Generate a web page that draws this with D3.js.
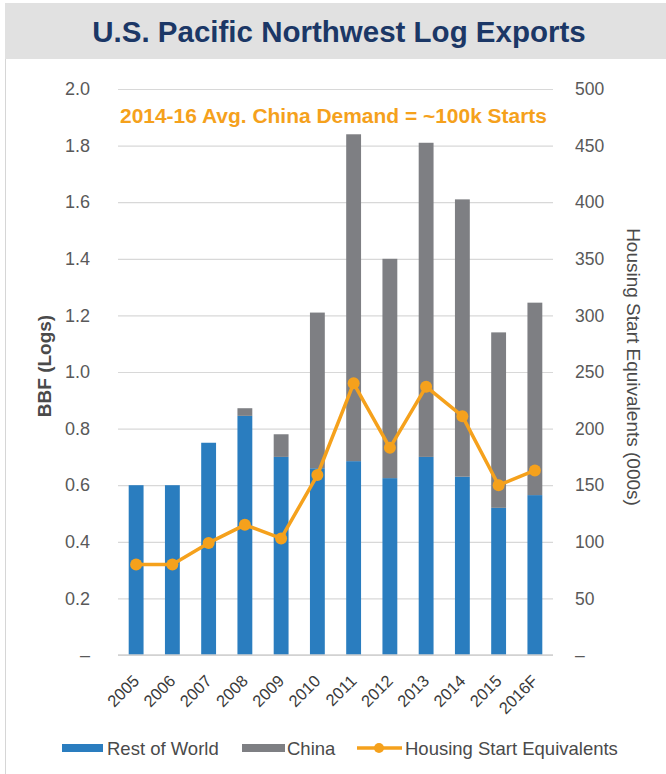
<!DOCTYPE html>
<html>
<head>
<meta charset="utf-8">
<script src="https://cdn.jsdelivr.net/npm/d3@7/dist/d3.min.js"></script>
<style>
  html, body { margin: 0; padding: 0; background: #fff; }
  svg { display: block; font-family: "Liberation Sans", Arial, Helvetica, sans-serif; }
</style>
</head>
<body>
<svg id="chart" width="666" height="774"></svg>
<script>
// ---- data ----
const years = ["2005","2006","2007","2008","2009","2010","2011","2012","2013","2014","2015","2016F"];
const restOfWorld = [0.60, 0.60, 0.75, 0.845, 0.70, 0.66, 0.685, 0.625, 0.70, 0.63, 0.52, 0.565];
const china       = [0.00, 0.00, 0.00, 0.027, 0.08, 0.55, 1.155, 0.775, 1.11, 0.98, 0.62, 0.68];
const housingStarts = [80, 80, 99, 115, 103, 159, 240, 183, 237, 211, 150, 163];
const leftTicks  = [0, 0.2, 0.4, 0.6, 0.8, 1.0, 1.2, 1.4, 1.6, 1.8, 2.0];
const rightTicks = [0, 50, 100, 150, 200, 250, 300, 350, 400, 450, 500];
const seriesNames = ["Rest of World", "China", "Housing Start Equivalents"];

const colors = { row: "#2a7dbf", china: "#7e7f83", line: "#f5a11c" };

const svg = d3.select("#chart");
const W = 666, H = 774;
const plot = { left: 118, right: 553, top: 89, bottom: 655 };

// header band
svg.append("rect").attr("x", 5).attr("y", 3).attr("width", W - 5).attr("height", 56).attr("fill", "#e1e1e1");
svg.append("line").attr("x1", 5.5).attr("x2", 5.5).attr("y1", 59).attr("y2", H)
  .attr("stroke", "#d6d6d6").attr("stroke-width", 1);
svg.append("text").attr("x", 339).attr("y", 42).attr("text-anchor", "middle")
  .attr("font-size", 29.5).attr("font-weight", "bold").attr("fill", "#1b3766")
  .text("U.S. Pacific Northwest Log Exports");

// scales
const x = d3.scaleBand().domain(years).range([plot.left, plot.right]).paddingInner(0.59).paddingOuter(0.295);
const yL = d3.scaleLinear().domain([0, 2.0]).range([plot.bottom, plot.top]);
const yR = d3.scaleLinear().domain([0, 500]).range([plot.bottom, plot.top]);

// gridlines via left axis
const gridAxis = d3.axisLeft(yL).tickValues(leftTicks).tickSize(-(plot.right - plot.left)).tickFormat("");
const grid = svg.append("g").attr("transform", `translate(${plot.left},0)`).call(gridAxis);
grid.select(".domain").remove();
grid.selectAll(".tick line").attr("stroke", "#d8d8d8").attr("stroke-width", 1.2);

// left axis labels
const leftAxis = d3.axisLeft(yL).tickValues(leftTicks).tickSize(0).tickPadding(0)
  .tickFormat(d => d === 0 ? "–" : d3.format(".1f")(d));
const gl = svg.append("g").attr("transform", `translate(90,0)`).call(leftAxis);
gl.select(".domain").remove();
gl.selectAll("text").attr("font-size", 18).attr("fill", "#595959").attr("font-family", "Liberation Sans, Arial, sans-serif");

// right axis labels
const rightAxis = d3.axisRight(yR).tickValues(rightTicks).tickSize(0).tickPadding(0)
  .tickFormat(d => d === 0 ? "–" : d);
const gr = svg.append("g").attr("transform", `translate(575,0)`).call(rightAxis);
gr.select(".domain").remove();
gr.selectAll("text").attr("font-size", 17.5).attr("fill", "#595959").attr("font-family", "Liberation Sans, Arial, sans-serif");

// axis titles
svg.append("text").attr("transform", "translate(51,366) rotate(-90)").attr("text-anchor", "middle")
  .attr("font-size", 19).attr("font-weight", "bold").attr("fill", "#4a4a4a").text("BBF (Logs)");
svg.append("text").attr("transform", "translate(627,367) rotate(90)").attr("text-anchor", "middle")
  .attr("font-size", 19).attr("fill", "#4a4a4a").text("Housing Start Equivalents (000s)");

// bars
const stackData = years.map((yr, i) => ({ year: yr, row: restOfWorld[i], china: china[i] }));
const stack = d3.stack().keys(["row", "china"])(stackData);
svg.append("g").selectAll("g").data(stack).join("g")
  .attr("fill", d => d.key === "row" ? colors.row : colors.china)
  .selectAll("rect").data(d => d).join("rect")
  .attr("x", d => x(d.data.year))
  .attr("width", x.bandwidth())
  .attr("y", d => yL(d[1]))
  .attr("height", d => yL(d[0]) - yL(d[1]));

// bottom axis
const bottomAxis = d3.axisBottom(x).tickSize(0).tickPadding(0);
const gb = svg.append("g").attr("transform", `translate(0,${plot.bottom})`).call(bottomAxis);
gb.select(".domain").attr("stroke", "#d0d0d0").attr("stroke-width", 1.5)
  .attr("d", `M${plot.left},0H${plot.right}`);
gb.selectAll("text")
  .attr("font-size", 16.5).attr("fill", "#3a3a3a").attr("font-family", "Liberation Sans, Arial, sans-serif")
  .attr("text-anchor", "end").attr("dy", 0).attr("y", 0)
  .attr("transform", "translate(4,27) rotate(-45)");

// line
const cx = (yr) => x(yr) + x.bandwidth() / 2;
const line = d3.line().x((d, i) => cx(years[i])).y(d => yR(d));
svg.append("path").datum(housingStarts).attr("d", line).attr("fill", "none")
  .attr("stroke", colors.line).attr("stroke-width", 3.5).attr("stroke-linejoin", "round");
svg.append("g").selectAll("circle").data(housingStarts).join("circle")
  .attr("cx", (d, i) => cx(years[i])).attr("cy", d => yR(d)).attr("r", 6).attr("fill", colors.line);

// annotation
svg.append("text").attr("x", 333.5).attr("y", 123).attr("text-anchor", "middle")
  .attr("font-size", 19.5).attr("font-weight", "bold").attr("fill", colors.line)
  .attr("textLength", 427).attr("lengthAdjust", "spacingAndGlyphs")
  .text("2014-16 Avg. China Demand = ~100k Starts");

// legend
const lg = svg.append("g").attr("font-size", 18.5).attr("fill", "#4a4a4a");
lg.append("rect").attr("x", 62).attr("y", 744).attr("width", 41).attr("height", 8).attr("fill", colors.row);
lg.append("text").attr("x", 107).attr("y", 754.5).text(seriesNames[0]);
lg.append("rect").attr("x", 242).attr("y", 744).attr("width", 43).attr("height", 8).attr("fill", colors.china);
lg.append("text").attr("x", 287).attr("y", 754.5).text(seriesNames[1]);
lg.append("line").attr("x1", 357).attr("x2", 402).attr("y1", 748).attr("y2", 748)
  .attr("stroke", colors.line).attr("stroke-width", 3.5);
lg.append("circle").attr("cx", 379).attr("cy", 748).attr("r", 5).attr("fill", colors.line);
lg.append("text").attr("x", 405).attr("y", 754.5).text(seriesNames[2]);
</script>
</body>
</html>
